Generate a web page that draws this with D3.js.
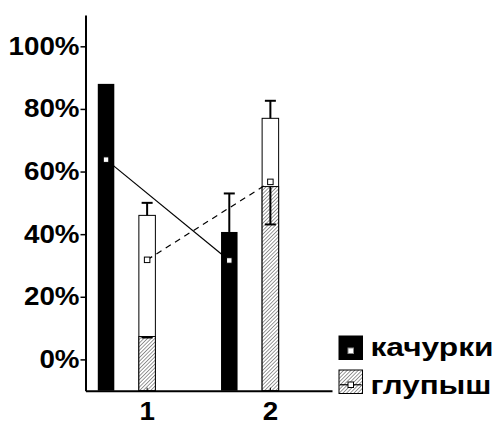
<!DOCTYPE html>
<html>
<head>
<meta charset="utf-8">
<script src="https://cdn.jsdelivr.net/npm/d3@7"></script>
<style>
  html, body { margin: 0; padding: 0; background: #fff; }
  svg { display: block; }
  .tick text { font-family: "Liberation Sans", Arial, sans-serif; font-weight: bold; font-size: 25px; fill: #000; }
</style>
</head>
<body>
<svg id="chart" width="496" height="421"></svg>
<script>
// Categories and series
const categories = ["1", "2"];
const seriesNames = ["качурки", "глупыш"];

// качурки: bar height, upper whisker, line marker
const kachurkiBar = [88, 40.7];
const kachurkiErr = [88, 53];
const kachurkiMean = [63.8, 31.6];

// глупыш: outer (white) bar, its whisker, inner hatched bar, its whisker, line marker
const glupyshOuter = [46, 77];
const glupyshOuterErr = [50, 82.6];
const glupyshInner = [7.3, 55.2];
const glupyshInnerErr = [7.0, 43.1];
const glupyshMean = [31.8, 56.7];

// Axis ticks
const yTicks = [0, 20, 40, 60, 80, 100];

const svg = d3.select("#chart");

const y = d3.scaleLinear().domain([-10, 110]).range([390.7, 15]);
const x = d3.scaleBand().domain(categories).range([85.5, 332]).padding(0);
const center = c => x(c) + x.bandwidth() / 2;
const offset = x.bandwidth() / 3;      // качурки sits left of the category centre
const barW = x.bandwidth() * 0.134;

// hatch pattern for the inner bars
const defs = svg.append("defs");
const pat = defs.append("pattern")
  .attr("id", "hatch")
  .attr("patternUnits", "userSpaceOnUse")
  .attr("width", 2.6).attr("height", 2.6)
  .attr("patternTransform", "rotate(45)");
pat.append("rect").attr("width", 2.6).attr("height", 2.6).attr("fill", "#fff");
pat.append("line").attr("x1", 0).attr("y1", 0).attr("x2", 0).attr("y2", 2.6)
  .attr("stroke", "#444").attr("stroke-width", 1.1);

const base = y.domain()[0];

// качурки bars
svg.append("g").selectAll("rect")
  .data(categories)
  .join("rect")
  .attr("x", (c) => center(c) - offset - barW / 2)
  .attr("y", (c, i) => y(kachurkiBar[i]))
  .attr("width", barW)
  .attr("height", (c, i) => y(base) - y(kachurkiBar[i]))
  .attr("fill", "#000");

// глупыш outer bars
svg.append("g").selectAll("rect")
  .data(categories)
  .join("rect")
  .attr("x", (c) => center(c) - barW / 2)
  .attr("y", (c, i) => y(glupyshOuter[i]))
  .attr("width", barW)
  .attr("height", (c, i) => y(base) - y(glupyshOuter[i]))
  .attr("fill", "#fff")
  .attr("stroke", "#000")
  .attr("stroke-width", 1);

// глупыш inner hatched bars
svg.append("g").selectAll("rect")
  .data(categories)
  .join("rect")
  .attr("x", (c) => center(c) - barW / 2)
  .attr("y", (c, i) => y(glupyshInner[i]))
  .attr("width", barW)
  .attr("height", (c, i) => y(base) - y(glupyshInner[i]))
  .attr("fill", "url(#hatch)")
  .attr("stroke", "#000")
  .attr("stroke-width", 1);

// connecting lines between category means
const line = d3.line().x(d => d[0]).y(d => y(d[1]));
svg.append("path")
  .datum(categories.map((c, i) => [center(c) - offset, kachurkiMean[i]]))
  .attr("d", line)
  .attr("fill", "none").attr("stroke", "#000").attr("stroke-width", 1.2);
svg.append("path")
  .datum(categories.map((c, i) => [center(c), glupyshMean[i]]))
  .attr("d", line)
  .attr("fill", "none").attr("stroke", "#000").attr("stroke-width", 1.2)
  .attr("stroke-dasharray", "6,5");

// whiskers
const whiskers = [];
categories.forEach((c, i) => {
  whiskers.push({ cx: center(c) - offset, from: kachurkiBar[i], to: kachurkiErr[i] });
  whiskers.push({ cx: center(c), from: glupyshOuter[i], to: glupyshOuterErr[i] });
  whiskers.push({ cx: center(c), from: glupyshInner[i], to: glupyshInnerErr[i] });
});
const wg = svg.append("g").attr("stroke", "#000").attr("stroke-width", 2);
wg.selectAll("line.stem")
  .data(whiskers.filter(w => w.from !== w.to))
  .join("line")
  .attr("class", "stem")
  .attr("x1", w => w.cx).attr("x2", w => w.cx)
  .attr("y1", w => y(w.from)).attr("y2", w => y(w.to));
wg.selectAll("line.cap")
  .data(whiskers.filter(w => w.from !== w.to))
  .join("line")
  .attr("class", "cap")
  .attr("x1", w => w.cx - 5.5).attr("x2", w => w.cx + 5.5)
  .attr("y1", w => y(w.to)).attr("y2", w => y(w.to));

// mean markers
const ms = 5.5;
const markers = categories.flatMap((c, i) => [
  { cx: center(c) - offset, v: kachurkiMean[i] },
  { cx: center(c), v: glupyshMean[i] }
]);
svg.append("g").selectAll("rect")
  .data(markers)
  .join("rect")
  .attr("x", d => d.cx - ms / 2)
  .attr("y", d => y(d.v) - ms / 2)
  .attr("width", ms).attr("height", ms)
  .attr("fill", "#fff").attr("stroke", "#000").attr("stroke-width", 1);

// widen bold labels a little, like the original wide typeface
function widen(sel, k) {
  sel.each(function () {
    const len = this.getComputedTextLength();
    d3.select(this).attr("textLength", len * k).attr("lengthAdjust", "spacingAndGlyphs");
  });
}

// axes
const yAxis = svg.append("g")
  .attr("transform", `translate(${x.range()[0]},0)`)
  .call(d3.axisLeft(y).tickValues(yTicks).tickFormat(d => d + "%")
    .tickSize(5).tickSizeOuter(0).tickPadding(1));
yAxis.select(".domain").attr("stroke-width", 2);
yAxis.selectAll(".tick line").attr("stroke-width", 1.5);
widen(yAxis.selectAll(".tick text"), 1.11);

const xAxis = svg.append("g")
  .attr("transform", `translate(0,${y(base)})`)
  .call(d3.axisBottom(x).tickSizeInner(-3).tickSizeOuter(0).tickPadding(11.5));
xAxis.select(".domain").attr("stroke-width", 2);
widen(xAxis.selectAll(".tick text"), 1.11);

// legend
const legend = svg.append("g");
const legendItems = [
  { name: seriesNames[0], fill: "#000", dashed: false, sq: 336, tb: 356 },
  { name: seriesNames[1], fill: "url(#hatch)", dashed: true, sq: 370, tb: 394 }
];
const lx = 339, ls = 23.5;
legendItems.forEach(it => {
  legend.append("rect")
    .attr("x", lx).attr("y", it.sq).attr("width", ls).attr("height", ls)
    .attr("fill", it.fill).attr("stroke", "#000").attr("stroke-width", 1);
  if (it.dashed) {
    legend.append("line")
      .attr("x1", lx + 1).attr("x2", lx + ls - 1)
      .attr("y1", it.sq + ls / 2 + 3).attr("y2", it.sq + ls / 2 + 3)
      .attr("stroke", "#000").attr("stroke-width", 1.2);
  }
  legend.append("rect")
    .attr("x", lx + ls / 2 - ms / 2).attr("y", it.sq + ls / 2 + 3 - ms / 2)
    .attr("width", ms).attr("height", ms)
    .attr("fill", "#fff").attr("stroke", it.dashed ? "#000" : "#888").attr("stroke-width", 1);
  legend.append("text")
    .attr("x", 370.5).attr("y", it.tb)
    .attr("font-family", "'Liberation Sans', Arial, sans-serif")
    .attr("font-weight", "bold")
    .attr("font-size", 25)
    .attr("textLength", it.dashed ? 121 : 123)
    .attr("lengthAdjust", "spacingAndGlyphs")
    .text(it.name);
});
</script>
</body>
</html>
